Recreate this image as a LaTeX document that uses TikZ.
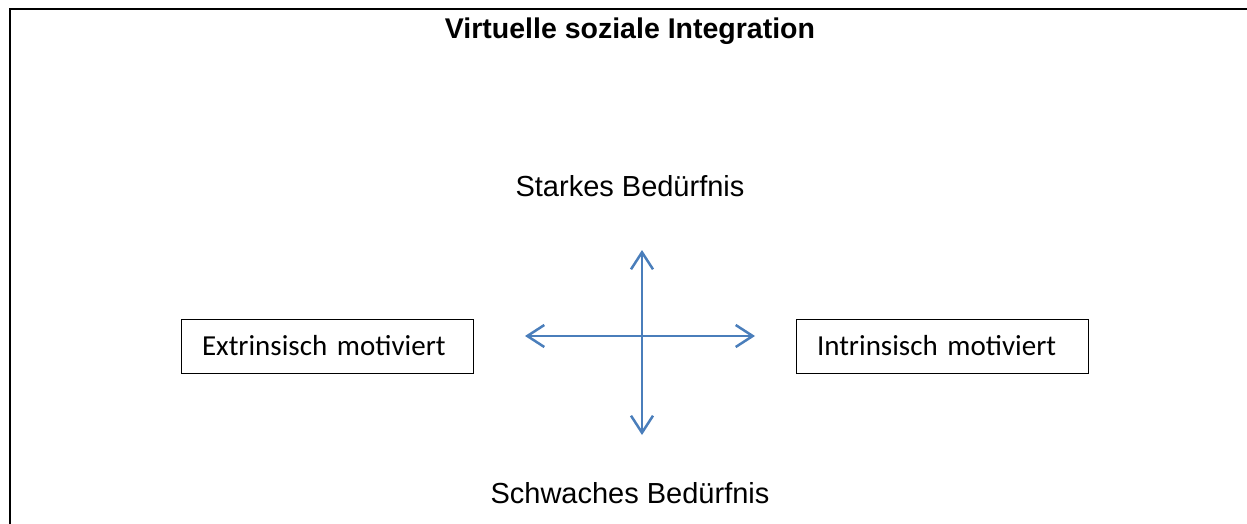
\documentclass[tikz,border=0pt]{standalone}
\usepackage{fontspec}
\setmainfont{Liberation Sans}
\newfontfamily\calibri{Carlito}
\usetikzlibrary{arrows.meta}
\definecolor{axisblue}{HTML}{4A7EBB}
\tikzset{
  frameline/.style={line width=2pt, black},
  labeltext/.style={inner sep=0pt, anchor=base, font=\fontsize{29}{34}\selectfont},
  titletext/.style={inner sep=0pt, anchor=base, font=\fontsize{28.5}{33}\selectfont\bfseries},
  motivbox/.style={draw, line width=1pt, minimum height=54pt, text width=250pt, inner xsep=21pt, inner ysep=0pt, align=left, font=\calibri\fontsize{29}{34}\selectfont},
  axis/.style={axisblue, line width=2.5pt, {Straight Barb[length=17pt,width=22pt,line width=2.5pt]}-{Straight Barb[length=17pt,width=22pt,line width=2.5pt]}}
}
\begin{document}
\begin{tikzpicture}[x=1pt,y=-1pt]
\useasboundingbox (0,0) rectangle (1247,524);
\draw[frameline] (10,524) -- (10,9) -- (1247,9);
\node[titletext] (title) at (630,38.5) {Virtuelle soziale Integration};
\node[labeltext] (strong) at (630,196) {Starkes Bedürfnis};
\node[labeltext] (weak) at (630,503) {Schwaches Bedürfnis};
\node[motivbox] (extr) at (327,346) {Extrinsisch motiviert};
\node[motivbox] (intr) at (942,346) {Intrinsisch motiviert};
\coordinate (up) at (642,250);
\coordinate (down) at (642,435);
\coordinate (left) at (525,336);
\coordinate (right) at (755,336);
\draw[axis] (down) -- (up);
\draw[axis] (left) -- (right);
\end{tikzpicture}
\end{document}
